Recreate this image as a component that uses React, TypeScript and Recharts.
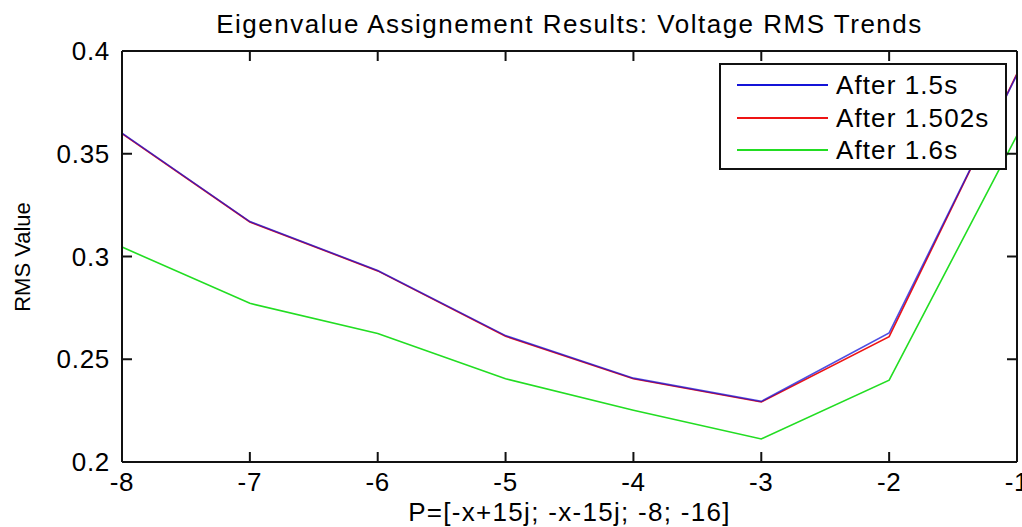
import { LineChart, Line, XAxis, YAxis, Legend } from 'recharts';

// x positions (P parameter)
const xValues = [-8, -7, -6, -5, -4, -3, -2, -1];
// RMS values
const after15 = [0.36, 0.317, 0.2932, 0.2615, 0.2408, 0.2295, 0.2628, 0.3885];
const after1502 = [0.3598, 0.3168, 0.293, 0.2612, 0.2405, 0.2292, 0.261, 0.389];
const after16 = [0.3046, 0.2772, 0.2625, 0.2405, 0.2252, 0.2112, 0.2398, 0.359];

const xTicks = [-8, -7, -6, -5, -4, -3, -2, -1];
const yTicks = [0.2, 0.25, 0.3, 0.35, 0.4];

const series = [
  { key: 'a', name: 'After 1.5s', color: '#1414d8' },
  { key: 'b', name: 'After 1.502s', color: '#ee1414' },
  { key: 'c', name: 'After 1.6s', color: '#22dd22' },
];

const data = xValues.map((x, i) => ({ x, a: after15[i], b: after1502[i], c: after16[i] }));

const FONT = 'Arial, "Liberation Sans", sans-serif';
const TICK_LEN = 10;
const AXIS_W = 2;

// inward tick marks (MATLAB style), drawn together with the labels
const BottomTick = ({ x, y, payload }: any) => (
  <g>
    <path d={`M${x},${Number(y) - 11}V${Number(y) - 11 - TICK_LEN}`} stroke="#111" strokeWidth={AXIS_W} fill="none" />
    <text x={x} y={y} dy="0.71em" textAnchor="middle" fontSize={26} fontFamily={FONT} letterSpacing={0.7} fill="#000">
      {payload.value}
    </text>
  </g>
);

const TopTick = ({ x, y }: any) => (
  <path d={`M${x},${y}V${Number(y) + TICK_LEN}`} stroke="#111" strokeWidth={AXIS_W} fill="none" />
);

const LeftTick = ({ x, y, payload }: any) => (
  <g>
    <path d={`M${Number(x) + 12},${y}H${Number(x) + 12 + TICK_LEN}`} stroke="#111" strokeWidth={AXIS_W} fill="none" />
    <text x={x} y={y} dy="0.355em" textAnchor="end" fontSize={26} fontFamily={FONT} letterSpacing={0.7} fill="#000">
      {String(Number(Number(payload.value).toFixed(2)))}
    </text>
  </g>
);

const RightTick = ({ x, y }: any) => (
  <path d={`M${x},${y}H${Number(x) - TICK_LEN}`} stroke="#111" strokeWidth={AXIS_W} fill="none" />
);

const LegendBox = () => (
  <div
    style={{
      position: 'absolute', left: 719, top: 63, width: 284, height: 103,
      border: '2px solid #111', background: '#fff', fontFamily: FONT, fontSize: 26, letterSpacing: 1.1,
    }}
  >
    {series.map((s, i) => (
      <div key={s.key} style={{ position: 'absolute', top: 5 + i * 32.5, left: 16, height: 30, display: 'flex', alignItems: 'center' }}>
        <div style={{ width: 91, height: 2, background: s.color }} />
        <span style={{ marginLeft: 8, lineHeight: '30px', whiteSpace: 'nowrap' }}>{s.name}</span>
      </div>
    ))}
  </div>
);

export default function App() {
  return (
    <div style={{ position: 'absolute', left: 0, top: 0, width: 1022, height: 527, background: '#fff', fontFamily: FONT, overflow: 'hidden' }}>
      <div style={{ position: 'absolute', top: 9, left: 122, width: 895, textAlign: 'center', fontSize: 26, letterSpacing: 1.5, whiteSpace: 'nowrap' }}>
        Eigenvalue Assignement Results: Voltage RMS Trends
      </div>
      <div style={{ position: 'absolute', top: 497, left: 122, width: 895, textAlign: 'center', fontSize: 26, letterSpacing: 1.3, whiteSpace: 'nowrap' }}>
        P=[-x+15j; -x-15j; -8; -16]
      </div>
      <div
        style={{
          position: 'absolute', left: 23, top: 257, fontSize: 22, whiteSpace: 'nowrap',
          transform: 'translate(-50%, -50%) rotate(-90deg)',
        }}
      >
        RMS Value
      </div>
      <LineChart width={1022} height={527} data={data} margin={{ top: 0, right: 0, bottom: 0, left: 0 }}>
        <XAxis
          dataKey="x" type="number" domain={[-8, -1]} ticks={xTicks} height={65} interval={0}
          stroke="#111" strokeWidth={AXIS_W} tickSize={0} tickMargin={11} tickLine={false} tick={BottomTick}
        />
        <XAxis
          xAxisId="top" orientation="top" dataKey="x" type="number" domain={[-8, -1]} ticks={xTicks} interval={0}
          height={51} stroke="#111" strokeWidth={AXIS_W} tickSize={0} tickMargin={0} tickLine={false} tick={TopTick}
        />
        <YAxis
          type="number" domain={[0.2, 0.4]} ticks={yTicks} width={122} interval={0}
          stroke="#111" strokeWidth={AXIS_W} tickSize={0} tickMargin={12} tickLine={false} tick={LeftTick}
        />
        <YAxis
          yAxisId="right" orientation="right" type="number" domain={[0.2, 0.4]} ticks={yTicks} interval={0}
          width={5} stroke="#111" strokeWidth={AXIS_W} tickSize={0} tickMargin={0} tickLine={false} tick={RightTick}
        />
        <Legend content={() => null} />
        <Line dataKey="b" name="After 1.502s" stroke="#ee1414" strokeWidth={1.6} dot={false} isAnimationActive={false} />
        <Line dataKey="a" name="After 1.5s" stroke="#1414d8" strokeWidth={1.6} strokeOpacity={0.75} dot={false} isAnimationActive={false} />
        {/* same 0.2–0.4 domain on the right axis, so the box gets its right-hand ticks */}
        <Line yAxisId="right" dataKey="c" name="After 1.6s" stroke="#22dd22" strokeWidth={1.6} dot={false} isAnimationActive={false} />
      </LineChart>
      <LegendBox />
    </div>
  );
}
